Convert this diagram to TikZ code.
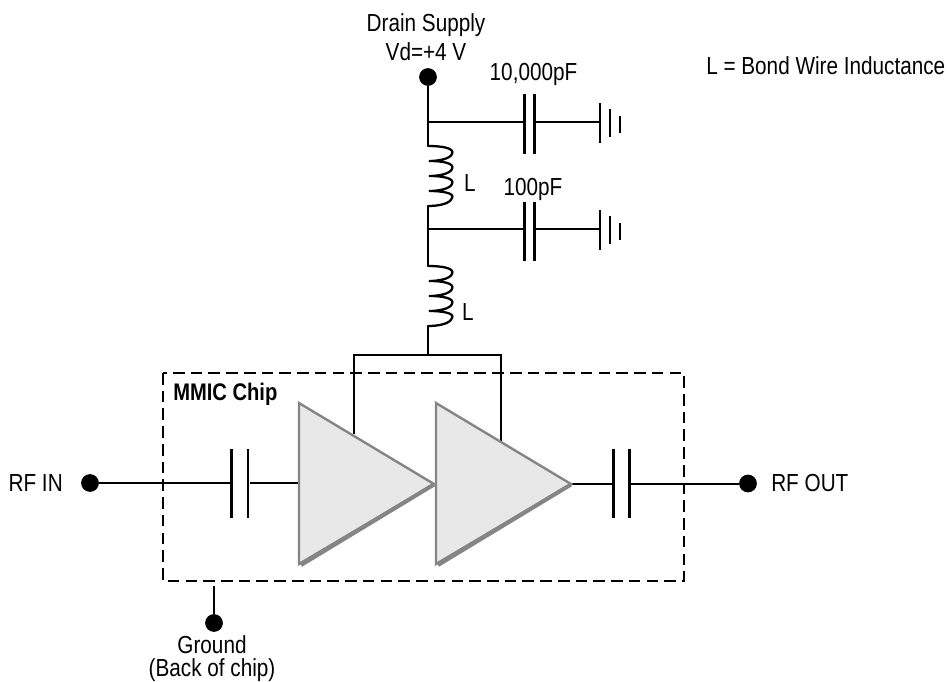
\documentclass[tikz,border=0pt]{standalone}
\usepackage{fontspec}
\setmainfont[FakeStretch=0.84]{Liberation Sans}
\definecolor{ampgray}{HTML}{858585}
\definecolor{ampfill}{HTML}{E8E8E8}
\tikzset{
  wire/.style={draw=black,line width=1.5pt},
  thinwire/.style={draw=black,line width=1.25pt},
  plate/.style={draw=black,line width=1.7pt},
  dot/.style={circle,fill=black,inner sep=0pt,minimum size=13.3pt},
  lbl/.style={inner sep=0pt,font=\fontsize{18.5pt}{21.5pt}\selectfont,align=center},
  amp/.style={draw=ampgray,line width=1.8pt,fill=ampfill,line join=miter},
  ampedge/.style={draw=ampgray,line width=3pt},
  chip/.style={draw=black,line width=1.9pt,dash pattern=on 8.7pt off 4.6pt},
  coil/.style={draw=black,line width=1.7pt,line cap=round}
}
\begin{document}
\begin{tikzpicture}[x=0.75pt,y=-0.75pt]
\useasboundingbox (0,0) rectangle (950,682);
% chip outline
\coordinate (chipTL) at (163,373);
\coordinate (chipBR) at (684,581);
\draw[chip] (chipTL) rectangle (chipBR);
% terminals
\node[dot] (vd) at (428,77) {};
\node[dot] (rfin) at (90,483) {};
\node[dot] (rfout) at (748,483.5) {};
\node[dot] (gnd) at (214,623) {};
\coordinate (gndtop) at (214,586);
\draw[wire] (gnd) -- (gndtop);
% supply branch
\coordinate (j1) at (428,122);
\coordinate (c1l) at (524,122);
\coordinate (c1r) at (536,122);
\coordinate (g1) at (600,122);
\coordinate (l1t) at (428,146);
\coordinate (l1b) at (428,206);
\coordinate (j2) at (428,229);
\coordinate (c2l) at (524,229);
\coordinate (c2r) at (536,229);
\coordinate (g2) at (600,229);
\coordinate (l2t) at (428,266);
\coordinate (l2b) at (428,326);
\coordinate (bus) at (428,355);
\coordinate (busl) at (354,355);
\coordinate (busr) at (501,355);
\coordinate (busld) at (354,434);
\coordinate (busrd) at (501,442);
\draw[wire] (vd) -- (l1t);
\draw[wire] (j1) -- (c1l);
\draw[wire] (c1r) -- (g1);
\draw[wire] (l1b) -- (l2t);
\draw[wire] (j2) -- (c2l);
\draw[wire] (c2r) -- (g2);
\draw[wire] (l2b) -- (bus);
\draw[thinwire] (busld) -- (busl) -- (busr) -- (busrd);
% inductors
\foreach \y in {146,266}{
  \draw[coil] (428,\y)
    .. controls (442,\y+0) and (455,\y+2) .. (452,\y+8)
    .. controls (450,\y+13) and (438,\y+15) .. (429,\y+15)
    .. controls (442,\y+15) and (455,\y+17) .. (452,\y+23)
    .. controls (450,\y+28) and (438,\y+30) .. (429,\y+30)
    .. controls (442,\y+30) and (455,\y+32) .. (452,\y+38)
    .. controls (450,\y+43) and (438,\y+45) .. (429,\y+45)
    .. controls (442,\y+45) and (455,\y+47) .. (452,\y+52)
    .. controls (450,\y+58) and (438,\y+60) .. (428,\y+60);
}
% capacitors on supply
\foreach \x in {524.5,534.5}{
  \draw[plate] (\x,94) -- (\x,154);
  \draw[plate] (\x,202) -- (\x,261);
}
% ground symbols
\draw[plate] (600,103) -- (600,143);
\draw[plate] (610,109) -- (610,137);
\draw[plate] (620,116) -- (620,133);
\draw[plate] (600,210) -- (600,250);
\draw[plate] (610,216) -- (610,244);
\draw[plate] (620,223) -- (620,240);
% RF path
\coordinate (ci1) at (231.5,483);
\coordinate (ci2) at (250,483);
\coordinate (a1in) at (298,483);
\coordinate (a2out) at (571,483.5);
\coordinate (co1) at (613.5,483.5);
\coordinate (co2) at (631,483.5);
\draw[wire] (rfin) -- (ci1);
\draw[wire] (ci2) -- (a1in);
\draw[wire] (a2out) -- (co1);
\draw[wire] (co2) -- (rfout);
\foreach \x in {231.5,248,613.5,629.5}{
  \draw[plate] (\x,449) -- (\x,518);
}
% amplifiers
\foreach \x in {299,436}{
  \draw[amp] (\x,403) -- (\x+135,484) -- (\x,564) -- cycle;
  \draw[ampedge] (\x+135,484.5) -- (\x+2,565);
}
% labels
\node[lbl] (drain) at (426,37) {Drain Supply\\Vd=+4 V};
\node[lbl] (c1lab) at (533.5,74) {10,000pF};
\node[lbl] (c2lab) at (533,189) {100pF};
\node[lbl] (l1lab) at (470,183) {L};
\node[lbl] (l2lab) at (468,312) {L};
\node[lbl,anchor=west] (legend) at (706,66) {L = Bond Wire Inductance};
\node[lbl,anchor=west,font=\fontsize{18pt}{21pt}\selectfont\bfseries] (mmic) at (173,394) {MMIC Chip};
\node[lbl,anchor=east] (rfinlab) at (63,483) {RF IN};
\node[lbl,anchor=west] (rfoutlab) at (771,483) {RF OUT};
\node[lbl,font=\fontsize{18.5pt}{17.5pt}\selectfont] (gndlab) at (212,658.5) {Ground\\(Back of chip)};
\end{tikzpicture}
\end{document}
